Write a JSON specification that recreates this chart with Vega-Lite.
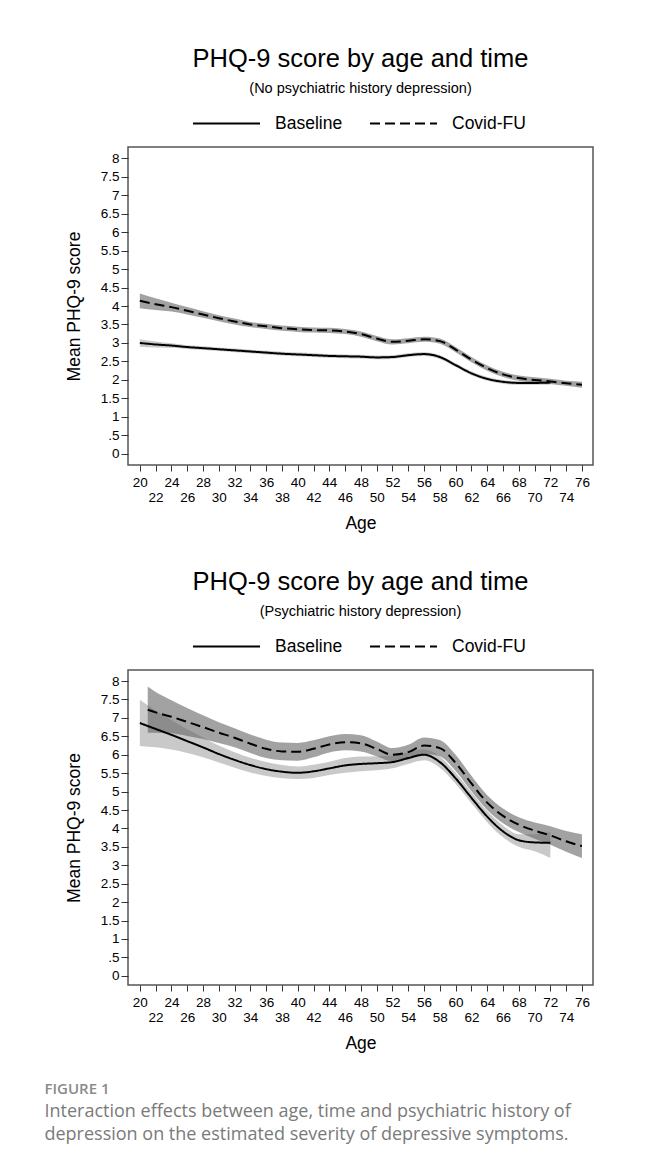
{
  "$schema": "https://vega.github.io/schema/vega-lite/v6.json",
  "background": "white",
  "padding": {"left": 44, "top": 46, "right": 0, "bottom": 20},
  "autosize": {"type": "pad"},
  "datasets": {
    "noHist": [
      {"time": "Baseline", "age": 20, "mean": 3.00, "lo": 2.90, "hi": 3.10},
      {"time": "Baseline", "age": 22, "mean": 2.96, "lo": 2.88, "hi": 3.04},
      {"time": "Baseline", "age": 24, "mean": 2.93, "lo": 2.87, "hi": 2.99},
      {"time": "Baseline", "age": 26, "mean": 2.89, "lo": 2.84, "hi": 2.94},
      {"time": "Baseline", "age": 28, "mean": 2.86, "lo": 2.81, "hi": 2.91},
      {"time": "Baseline", "age": 30, "mean": 2.83, "lo": 2.78, "hi": 2.88},
      {"time": "Baseline", "age": 32, "mean": 2.80, "lo": 2.75, "hi": 2.85},
      {"time": "Baseline", "age": 34, "mean": 2.77, "lo": 2.72, "hi": 2.82},
      {"time": "Baseline", "age": 36, "mean": 2.74, "lo": 2.69, "hi": 2.79},
      {"time": "Baseline", "age": 38, "mean": 2.71, "lo": 2.66, "hi": 2.76},
      {"time": "Baseline", "age": 40, "mean": 2.69, "lo": 2.64, "hi": 2.74},
      {"time": "Baseline", "age": 42, "mean": 2.67, "lo": 2.62, "hi": 2.72},
      {"time": "Baseline", "age": 44, "mean": 2.65, "lo": 2.60, "hi": 2.70},
      {"time": "Baseline", "age": 46, "mean": 2.64, "lo": 2.59, "hi": 2.69},
      {"time": "Baseline", "age": 48, "mean": 2.63, "lo": 2.58, "hi": 2.68},
      {"time": "Baseline", "age": 50, "mean": 2.61, "lo": 2.56, "hi": 2.66},
      {"time": "Baseline", "age": 52, "mean": 2.62, "lo": 2.57, "hi": 2.67},
      {"time": "Baseline", "age": 54, "mean": 2.67, "lo": 2.62, "hi": 2.72},
      {"time": "Baseline", "age": 56, "mean": 2.70, "lo": 2.65, "hi": 2.75},
      {"time": "Baseline", "age": 58, "mean": 2.62, "lo": 2.57, "hi": 2.67},
      {"time": "Baseline", "age": 60, "mean": 2.40, "lo": 2.35, "hi": 2.45},
      {"time": "Baseline", "age": 62, "mean": 2.18, "lo": 2.13, "hi": 2.23},
      {"time": "Baseline", "age": 64, "mean": 2.03, "lo": 1.98, "hi": 2.08},
      {"time": "Baseline", "age": 66, "mean": 1.95, "lo": 1.90, "hi": 2.00},
      {"time": "Baseline", "age": 68, "mean": 1.92, "lo": 1.87, "hi": 1.97},
      {"time": "Baseline", "age": 70, "mean": 1.92, "lo": 1.87, "hi": 1.97},
      {"time": "Baseline", "age": 72, "mean": 1.93, "lo": 1.87, "hi": 1.99},
      {"time": "Covid-FU", "age": 20, "mean": 4.14, "lo": 3.94, "hi": 4.34},
      {"time": "Covid-FU", "age": 22, "mean": 4.05, "lo": 3.89, "hi": 4.21},
      {"time": "Covid-FU", "age": 24, "mean": 3.97, "lo": 3.85, "hi": 4.09},
      {"time": "Covid-FU", "age": 26, "mean": 3.87, "lo": 3.77, "hi": 3.97},
      {"time": "Covid-FU", "age": 28, "mean": 3.77, "lo": 3.68, "hi": 3.86},
      {"time": "Covid-FU", "age": 30, "mean": 3.67, "lo": 3.59, "hi": 3.75},
      {"time": "Covid-FU", "age": 32, "mean": 3.58, "lo": 3.50, "hi": 3.66},
      {"time": "Covid-FU", "age": 34, "mean": 3.50, "lo": 3.43, "hi": 3.57},
      {"time": "Covid-FU", "age": 36, "mean": 3.45, "lo": 3.38, "hi": 3.52},
      {"time": "Covid-FU", "age": 38, "mean": 3.40, "lo": 3.33, "hi": 3.47},
      {"time": "Covid-FU", "age": 40, "mean": 3.37, "lo": 3.30, "hi": 3.44},
      {"time": "Covid-FU", "age": 42, "mean": 3.35, "lo": 3.28, "hi": 3.42},
      {"time": "Covid-FU", "age": 44, "mean": 3.34, "lo": 3.27, "hi": 3.41},
      {"time": "Covid-FU", "age": 46, "mean": 3.31, "lo": 3.24, "hi": 3.38},
      {"time": "Covid-FU", "age": 48, "mean": 3.24, "lo": 3.17, "hi": 3.31},
      {"time": "Covid-FU", "age": 50, "mean": 3.12, "lo": 3.05, "hi": 3.19},
      {"time": "Covid-FU", "age": 52, "mean": 3.03, "lo": 2.96, "hi": 3.10},
      {"time": "Covid-FU", "age": 54, "mean": 3.06, "lo": 2.99, "hi": 3.13},
      {"time": "Covid-FU", "age": 56, "mean": 3.10, "lo": 3.03, "hi": 3.17},
      {"time": "Covid-FU", "age": 58, "mean": 3.05, "lo": 2.98, "hi": 3.12},
      {"time": "Covid-FU", "age": 60, "mean": 2.82, "lo": 2.75, "hi": 2.89},
      {"time": "Covid-FU", "age": 62, "mean": 2.55, "lo": 2.48, "hi": 2.62},
      {"time": "Covid-FU", "age": 64, "mean": 2.32, "lo": 2.25, "hi": 2.39},
      {"time": "Covid-FU", "age": 66, "mean": 2.15, "lo": 2.08, "hi": 2.22},
      {"time": "Covid-FU", "age": 68, "mean": 2.05, "lo": 1.98, "hi": 2.12},
      {"time": "Covid-FU", "age": 70, "mean": 2.00, "lo": 1.93, "hi": 2.07},
      {"time": "Covid-FU", "age": 72, "mean": 1.96, "lo": 1.89, "hi": 2.03},
      {"time": "Covid-FU", "age": 74, "mean": 1.91, "lo": 1.84, "hi": 1.98},
      {"time": "Covid-FU", "age": 76, "mean": 1.87, "lo": 1.79, "hi": 1.95}
    ],
    "hist": [
      {"time": "Baseline", "age": 20, "mean": 6.86, "lo": 6.24, "hi": 7.49},
      {"time": "Baseline", "age": 22, "mean": 6.70, "lo": 6.20, "hi": 7.20},
      {"time": "Baseline", "age": 24, "mean": 6.54, "lo": 6.14, "hi": 6.94},
      {"time": "Baseline", "age": 26, "mean": 6.37, "lo": 6.05, "hi": 6.69},
      {"time": "Baseline", "age": 28, "mean": 6.20, "lo": 5.93, "hi": 6.47},
      {"time": "Baseline", "age": 30, "mean": 6.02, "lo": 5.79, "hi": 6.25},
      {"time": "Baseline", "age": 32, "mean": 5.86, "lo": 5.65, "hi": 6.07},
      {"time": "Baseline", "age": 34, "mean": 5.72, "lo": 5.52, "hi": 5.92},
      {"time": "Baseline", "age": 36, "mean": 5.61, "lo": 5.42, "hi": 5.80},
      {"time": "Baseline", "age": 38, "mean": 5.54, "lo": 5.36, "hi": 5.72},
      {"time": "Baseline", "age": 40, "mean": 5.51, "lo": 5.34, "hi": 5.68},
      {"time": "Baseline", "age": 42, "mean": 5.55, "lo": 5.37, "hi": 5.73},
      {"time": "Baseline", "age": 44, "mean": 5.63, "lo": 5.45, "hi": 5.81},
      {"time": "Baseline", "age": 46, "mean": 5.71, "lo": 5.51, "hi": 5.91},
      {"time": "Baseline", "age": 48, "mean": 5.75, "lo": 5.55, "hi": 5.95},
      {"time": "Baseline", "age": 50, "mean": 5.77, "lo": 5.58, "hi": 5.96},
      {"time": "Baseline", "age": 52, "mean": 5.80, "lo": 5.63, "hi": 5.97},
      {"time": "Baseline", "age": 54, "mean": 5.91, "lo": 5.75, "hi": 6.07},
      {"time": "Baseline", "age": 56, "mean": 6.00, "lo": 5.85, "hi": 6.15},
      {"time": "Baseline", "age": 58, "mean": 5.80, "lo": 5.65, "hi": 5.95},
      {"time": "Baseline", "age": 60, "mean": 5.36, "lo": 5.21, "hi": 5.51},
      {"time": "Baseline", "age": 62, "mean": 4.83, "lo": 4.68, "hi": 4.98},
      {"time": "Baseline", "age": 64, "mean": 4.32, "lo": 4.17, "hi": 4.47},
      {"time": "Baseline", "age": 66, "mean": 3.92, "lo": 3.76, "hi": 4.08},
      {"time": "Baseline", "age": 68, "mean": 3.68, "lo": 3.50, "hi": 3.84},
      {"time": "Baseline", "age": 70, "mean": 3.62, "lo": 3.38, "hi": 3.84},
      {"time": "Baseline", "age": 72, "mean": 3.61, "lo": 3.20, "hi": 3.90},
      {"time": "Covid-FU", "age": 21, "mean": 7.22, "lo": 6.60, "hi": 7.85},
      {"time": "Covid-FU", "age": 22, "mean": 7.15, "lo": 6.60, "hi": 7.70},
      {"time": "Covid-FU", "age": 24, "mean": 7.03, "lo": 6.58, "hi": 7.48},
      {"time": "Covid-FU", "age": 26, "mean": 6.89, "lo": 6.51, "hi": 7.27},
      {"time": "Covid-FU", "age": 28, "mean": 6.75, "lo": 6.43, "hi": 7.07},
      {"time": "Covid-FU", "age": 30, "mean": 6.60, "lo": 6.32, "hi": 6.88},
      {"time": "Covid-FU", "age": 32, "mean": 6.46, "lo": 6.20, "hi": 6.72},
      {"time": "Covid-FU", "age": 34, "mean": 6.30, "lo": 6.05, "hi": 6.55},
      {"time": "Covid-FU", "age": 36, "mean": 6.16, "lo": 5.91, "hi": 6.41},
      {"time": "Covid-FU", "age": 38, "mean": 6.09, "lo": 5.85, "hi": 6.33},
      {"time": "Covid-FU", "age": 40, "mean": 6.08, "lo": 5.84, "hi": 6.32},
      {"time": "Covid-FU", "age": 42, "mean": 6.16, "lo": 5.93, "hi": 6.39},
      {"time": "Covid-FU", "age": 44, "mean": 6.28, "lo": 6.06, "hi": 6.50},
      {"time": "Covid-FU", "age": 46, "mean": 6.34, "lo": 6.12, "hi": 6.56},
      {"time": "Covid-FU", "age": 48, "mean": 6.31, "lo": 6.09, "hi": 6.53},
      {"time": "Covid-FU", "age": 50, "mean": 6.16, "lo": 5.96, "hi": 6.36},
      {"time": "Covid-FU", "age": 52, "mean": 6.00, "lo": 5.82, "hi": 6.18},
      {"time": "Covid-FU", "age": 54, "mean": 6.07, "lo": 5.87, "hi": 6.27},
      {"time": "Covid-FU", "age": 56, "mean": 6.25, "lo": 6.03, "hi": 6.47},
      {"time": "Covid-FU", "age": 58, "mean": 6.18, "lo": 5.96, "hi": 6.40},
      {"time": "Covid-FU", "age": 60, "mean": 5.78, "lo": 5.56, "hi": 6.00},
      {"time": "Covid-FU", "age": 62, "mean": 5.22, "lo": 5.01, "hi": 5.43},
      {"time": "Covid-FU", "age": 64, "mean": 4.70, "lo": 4.50, "hi": 4.90},
      {"time": "Covid-FU", "age": 66, "mean": 4.34, "lo": 4.14, "hi": 4.54},
      {"time": "Covid-FU", "age": 68, "mean": 4.10, "lo": 3.90, "hi": 4.30},
      {"time": "Covid-FU", "age": 70, "mean": 3.94, "lo": 3.72, "hi": 4.16},
      {"time": "Covid-FU", "age": 72, "mean": 3.81, "lo": 3.56, "hi": 4.06},
      {"time": "Covid-FU", "age": 74, "mean": 3.65, "lo": 3.37, "hi": 3.93},
      {"time": "Covid-FU", "age": 76, "mean": 3.52, "lo": 3.20, "hi": 3.84}
    ]
  },
  "title": {
    "text": "FIGURE 1",
    "subtitle": ["Interaction effects between age, time and psychiatric history of", "depression on the estimated severity of depressive symptoms."],
    "orient": "bottom",
    "anchor": "start",
    "frame": "bounds",
    "dx": -20,
    "offset": 29,
    "font": "Open Sans",
    "fontSize": 15,
    "fontWeight": 600,
    "color": "#8a8a8a",
    "subtitleFont": "Open Sans",
    "subtitleFontSize": 18,
    "subtitleColor": "#7a7a7a",
    "subtitleLineHeight": 23,
    "subtitlePadding": 6
  },
  "spacing": 36,
  "vconcat": [
    {
      "width": 465,
      "height": 318,
      "data": {"name": "noHist"},
      "title": {"text": "PHQ-9 score by age and time", "subtitle": "(No psychiatric history depression)"},
      "encoding": {
        "x": {
          "field": "age", "type": "quantitative",
          "scale": {"domain": [18.5, 77.4], "nice": false, "zero": false},
          "axis": {
            "title": "Age",
            "values": [20, 22, 24, 26, 28, 30, 32, 34, 36, 38, 40, 42, 44, 46, 48, 50, 52, 54, 56, 58, 60, 62, 64, 66, 68, 70, 72, 74, 76],
            "labelExpr": "datum.value % 4 == 0 ? datum.label : [' ', datum.label]"
          }
        }
      },
      "layer": [
        {
          "mark": {"type": "area", "interpolate": "monotone", "fill": "#646464"},
          "encoding": {
            "y": {
              "field": "lo", "type": "quantitative",
              "scale": {"domain": [-0.3, 8.3], "nice": false, "zero": false},
              "axis": {"title": "Mean PHQ-9 score", "values": [0, 0.5, 1, 1.5, 2, 2.5, 3, 3.5, 4, 4.5, 5, 5.5, 6, 6.5, 7, 7.5, 8], "format": "~g", "labelExpr": "datum.value == 0.5 ? '.5' : datum.label"}
            },
            "y2": {"field": "hi"},
            "fillOpacity": {"field": "time", "type": "nominal", "scale": {"domain": ["Baseline", "Covid-FU"], "range": [0.35, 0.6]}, "legend": null}
          }
        },
        {
          "mark": {"type": "line", "interpolate": "monotone", "color": "black", "strokeWidth": 2},
          "encoding": {
            "y": {
              "field": "mean", "type": "quantitative",
              "axis": {"title": "Mean PHQ-9 score", "values": [0, 0.5, 1, 1.5, 2, 2.5, 3, 3.5, 4, 4.5, 5, 5.5, 6, 6.5, 7, 7.5, 8], "format": "~g", "labelExpr": "datum.value == 0.5 ? '.5' : datum.label"}
            },
            "strokeDash": {"field": "time", "type": "nominal", "scale": {"domain": ["Baseline", "Covid-FU"], "range": [[1, 0], [10, 5]]}, "legend": {"legendX": 64, "legendY": -58}}
          }
        }
      ]
    },
    {
      "width": 465,
      "height": 315,
      "data": {"name": "hist"},
      "title": {"text": "PHQ-9 score by age and time", "subtitle": "(Psychiatric history depression)"},
      "encoding": {
        "x": {
          "field": "age", "type": "quantitative",
          "scale": {"domain": [18.5, 77.4], "nice": false, "zero": false},
          "axis": {
            "title": "Age",
            "values": [20, 22, 24, 26, 28, 30, 32, 34, 36, 38, 40, 42, 44, 46, 48, 50, 52, 54, 56, 58, 60, 62, 64, 66, 68, 70, 72, 74, 76],
            "labelExpr": "datum.value % 4 == 0 ? datum.label : [' ', datum.label]"
          }
        }
      },
      "layer": [
        {
          "mark": {"type": "area", "interpolate": "monotone", "fill": "#646464"},
          "encoding": {
            "y": {
              "field": "lo", "type": "quantitative",
              "scale": {"domain": [-0.25, 8.3], "nice": false, "zero": false},
              "axis": {"title": "Mean PHQ-9 score", "values": [0, 0.5, 1, 1.5, 2, 2.5, 3, 3.5, 4, 4.5, 5, 5.5, 6, 6.5, 7, 7.5, 8], "format": "~g", "labelExpr": "datum.value == 0.5 ? '.5' : datum.label"}
            },
            "y2": {"field": "hi"},
            "fillOpacity": {"field": "time", "type": "nominal", "scale": {"domain": ["Baseline", "Covid-FU"], "range": [0.35, 0.6]}, "legend": null}
          }
        },
        {
          "mark": {"type": "line", "interpolate": "monotone", "color": "black", "strokeWidth": 2},
          "encoding": {
            "y": {
              "field": "mean", "type": "quantitative",
              "axis": {"title": "Mean PHQ-9 score", "values": [0, 0.5, 1, 1.5, 2, 2.5, 3, 3.5, 4, 4.5, 5, 5.5, 6, 6.5, 7, 7.5, 8], "format": "~g", "labelExpr": "datum.value == 0.5 ? '.5' : datum.label"}
            },
            "strokeDash": {"field": "time", "type": "nominal", "scale": {"domain": ["Baseline", "Covid-FU"], "range": [[1, 0], [10, 5]]}, "legend": {"legendX": 64, "legendY": -58}}
          }
        }
      ]
    }
  ],
  "resolve": {"scale": {"strokeDash": "independent", "fillOpacity": "independent"}, "legend": {"strokeDash": "independent"}},
  "config": {
    "font": "Liberation Sans",
    "view": {"stroke": "#555555", "strokeWidth": 1.5},
    "title": {
      "font": "Liberation Sans",
      "fontSize": 25.5,
      "fontWeight": "normal",
      "color": "#000000",
      "subtitleFont": "Liberation Sans",
      "subtitleFontSize": 14.5,
      "subtitleColor": "#000000",
      "subtitlePadding": 9,
      "anchor": "middle",
      "frame": "group",
      "offset": -6
    },
    "axis": {
      "domain": false,
      "grid": false,
      "labelFont": "Liberation Sans",
      "labelFontSize": 13.5,
      "labelColor": "#000000",
      "tickColor": "#333333",
      "tickWidth": 1,
      "titleFont": "Liberation Sans",
      "titleFontSize": 17.5,
      "titleFontWeight": "normal",
      "titleColor": "#000000",
      "labelOverlap": false,
      "labelFlush": false,
      "labelBound": false
    },
    "axisX": {
      "labelLineHeight": 15,
      "labelPadding": 4,
      "tickSize": 6,
      "titlePadding": 11
    },
    "axisY": {
      "tickSize": 7,
      "labelPadding": 2,
      "titlePadding": 17
    },
    "legend": {
      "orient": "none",
      "direction": "horizontal",
      "title": null,
      "symbolType": "stroke",
      "symbolSize": 4489,
      "symbolStrokeWidth": 2,
      "symbolStrokeColor": "#000000",
      "labelFont": "Liberation Sans",
      "labelFontSize": 17.5,
      "labelColor": "#000000",
      "labelOffset": 14,
      "columnPadding": 23,
      "padding": 0
    }
  }
}
